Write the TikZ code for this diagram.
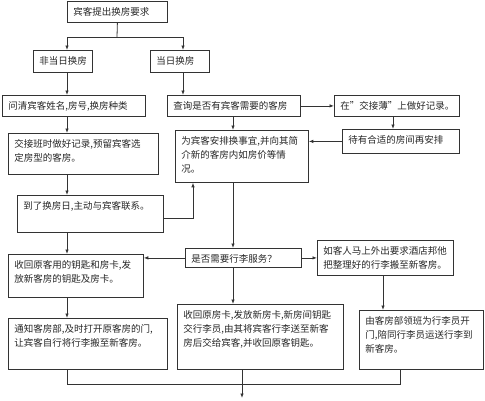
\documentclass[tikz,border=0pt]{standalone}
\usepackage{fontspec}
\setmainfont{Noto Sans CJK SC}
\usepackage{tikz}
\usetikzlibrary{
	calc,
	arrows.meta,
	positioning
	}
\tikzstyle{boite-std}=[draw=black!80,line width=0.8pt,anchor=north west,inner xsep=6pt,inner ysep=6pt,text=black!85,font=\fontsize{9.5}{14}\selectfont]
\tikzstyle{trait-std}=[draw=black!80,line width=0.8pt]
\tikzstyle{fleche-std}=[trait-std,-{Latex[length=4.5pt,width=3.5pt]}]
\newcommand{\cadre}[3]{\parbox[c][#2pt][t]{#1pt}{\raggedright #3}}

\begin{document}
\begin{tikzpicture}[x=1pt,y=-1pt]
\useasboundingbox (0,0) rectangle (485,400);

\node[boite-std] (etape0) at (67,1) {\cadre{88}{9}{宾客提出换房要求}};
\node[boite-std] (etape1) at (33,50) {\cadre{47}{10}{非当日换房}};
\node[boite-std] (etape2) at (150,50) {\cadre{47}{10}{当日换房}};
\node[boite-std] (etape3) at (2,95) {\cadre{131}{9}{问清宾客姓名,房号,换房种类}};
\node[boite-std] (etape4) at (167,95) {\cadre{121}{9}{查询是否有宾客需要的客房}};
\node[boite-std] (etape5) at (334,95) {\cadre{113}{9}{在"交接薄"上做好记录。}};
\node[boite-std] (etape6) at (8,133) {\cadre{138}{29}{交接班时做好记录,预留宾客选\\定房型的客房。}};
\node[boite-std] (etape7) at (175,130) {\cadre{121}{40}{为宾客安排换事宜,并向其简\\介新的客房内如房价等情\\况。}};
\node[boite-std] (etape8) at (342,129) {\cadre{105}{12}{待有合适的房间再安排}};
\node[boite-std] (etape9) at (17,195) {\cadre{134}{25}{到了换房日,主动与宾客联系。}};
\node[boite-std] (etape10) at (8,254) {\cadre{123}{31}{收回原客用的钥匙和房卡,发\\放新客房的钥匙及房卡。}};
\node[boite-std] (etape11) at (185,248) {\cadre{104}{7}{是否需要行李服务？}};
\node[boite-std] (etape12) at (317,240) {\cadre{124}{23}{如客人马上外出要求酒店邦他\\把整理好的行李搬至新客房。}};
\node[boite-std] (etape13) at (8,318) {\cadre{147}{39}{通知客房部,及时打开原客房的门,\\让宾客自行将行李搬至新客房。}};
\node[boite-std] (etape14) at (177,304) {\cadre{154}{53}{收回原房卡,发放新房卡,新房间钥匙\\交行李员,由其将宾客行李送至新客\\房后交给宾客,并收回原客钥匙。}};
\node[boite-std] (etape15) at (359,310) {\cadre{112}{47}{由客房部领班为行李员开\\门,陪同行李员运送行李到\\新客房。}};

\coordinate (colG) at (67,0);
\coordinate (colD) at (183,0);
\coordinate (colX) at (193,0);
\coordinate (colM) at (233,0);
\coordinate (colS) at (383,0);
\coordinate (colR) at (393,0);
\coordinate (colB) at (400,0);
\coordinate (jonction) at (242,384);

\draw[trait-std] (etape0.south) -- (117,37) coordinate (fourche);
\draw[fleche-std] (fourche) -| (etape1.north -| colG);
\draw[fleche-std] (fourche) -| (etape2.north -| colD);
\draw[fleche-std] (etape1.south -| colG) -- (etape3.north -| colG);
\draw[fleche-std] (etape2.south -| colD) -- (etape4.north -| colD);
\draw[fleche-std] (etape4.east) -- (etape5.west);
\draw[fleche-std] (etape4.south -| colM) -- (etape7.north -| colM);
\draw[fleche-std] (etape5.south -| colR) -- (etape8.north -| colR);
\draw[fleche-std] (etape8.west) -- (etape7.east |- etape8.west);
\draw[fleche-std] (etape3.south -| colG) -- (etape6.north -| colG);
\draw[fleche-std] (etape6.south -| colG) -- (etape9.north -| colG);
\draw[fleche-std] ([yshift=-4pt]etape9.east) -| (etape7.south -| colX);
\draw[fleche-std] (etape9.south -| colG) -- (etape10.north -| colG);
\draw[fleche-std] (etape7.south -| colM) -- (etape11.north -| colM);
\draw[fleche-std] (etape11.west) -- (etape10.east |- etape11.west);
\draw[fleche-std] (etape11.east) -- (etape12.west |- etape11.east);
\draw[fleche-std] (etape10.south -| colG) -- (etape13.north -| colG);
\draw[fleche-std] (etape11.south -| colM) -- (etape14.north -| colM);
\draw[fleche-std] (etape12.south -| colS) -- (etape15.north -| colS);
\draw[trait-std] (etape13.south -| colG) -- (colG |- jonction) -- (colB |- jonction) -- (etape15.south -| colB);
\draw[trait-std] (etape14.south -| jonction) -- (jonction);
\draw[fleche-std] (jonction) -- ++(0,14);
\end{tikzpicture}
\end{document}
